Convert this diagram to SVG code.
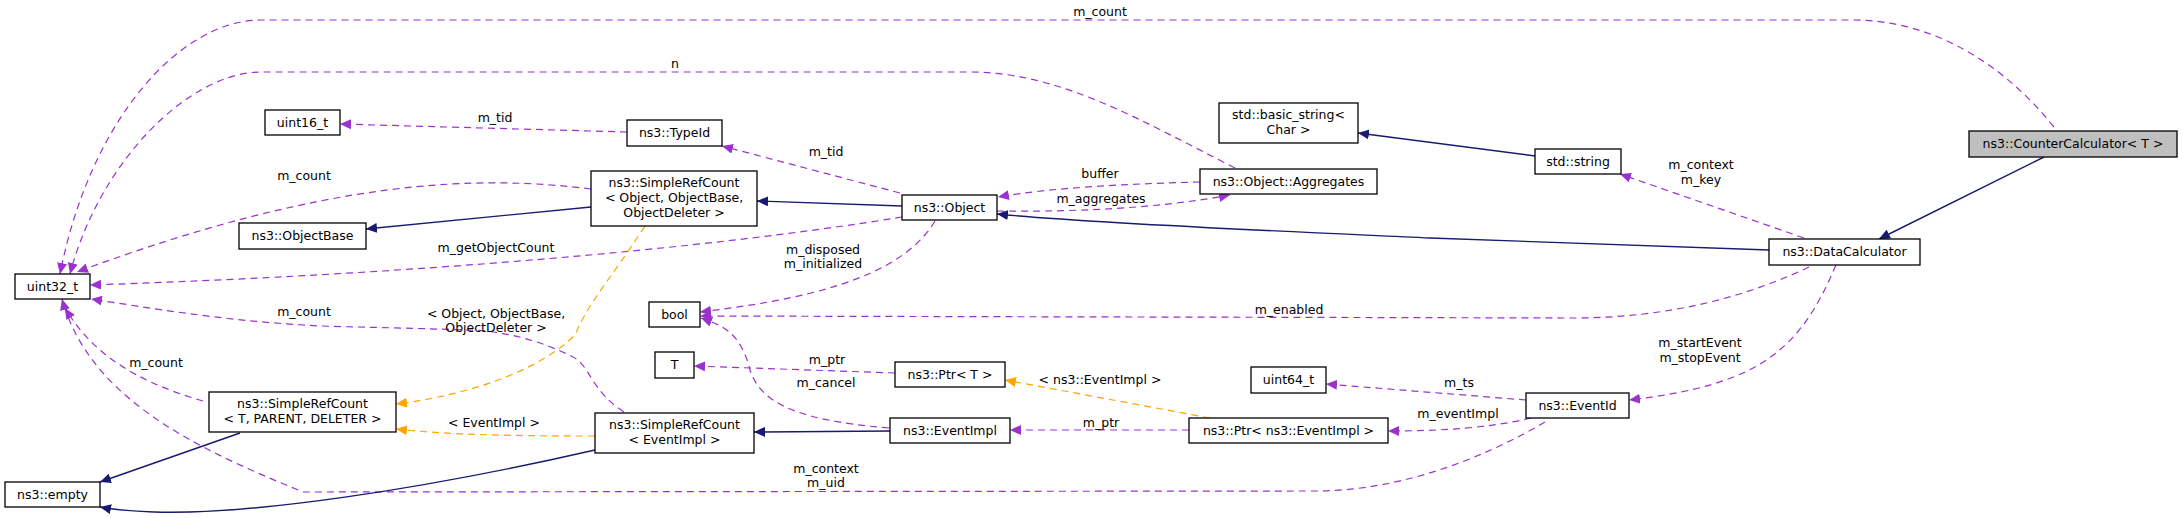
<svg xmlns="http://www.w3.org/2000/svg" width="2183" height="518" viewBox="0 0 2183 518">
<style>
.n rect{fill:#fff;stroke:#000;stroke-width:1.3}
text{font-family:"DejaVu Sans",sans-serif;font-size:12.5px;fill:#000;text-anchor:middle}
.d{fill:none;stroke:#9a32cd;stroke-width:1.2;stroke-dasharray:7,5}
.s{fill:none;stroke:#191970;stroke-width:1.4}
.o{fill:none;stroke:#ffa500;stroke-width:1.2;stroke-dasharray:7,5}
</style>
<defs>
<marker id="ap" markerWidth="12" markerHeight="10" refX="11" refY="5" orient="auto" markerUnits="userSpaceOnUse"><path d="M0,0L11,5L0,10z" fill="#9a32cd"/></marker>
<marker id="an" markerWidth="12" markerHeight="10" refX="11" refY="5" orient="auto" markerUnits="userSpaceOnUse"><path d="M0,0L11,5L0,10z" fill="#191970"/></marker>
<marker id="ao" markerWidth="12" markerHeight="10" refX="11" refY="5" orient="auto" markerUnits="userSpaceOnUse"><path d="M0,0L11,5L0,10z" fill="#ffa500"/></marker>
</defs>
<rect width="2183" height="518" fill="#fff"/>
<g id="edges">
<path class="d" marker-end="url(#ap)" d="M2054,127 C2000,60 1930,20 1852,20 L261,20 C180,20 90,120 60,274"/>
<text x="1100" y="16">m_count</text>
<path class="d" marker-end="url(#ap)" d="M1235,168 C1140,120 1060,72 970,72 L261,72 C190,72 100,160 70,274"/>
<text x="675" y="68">n</text>
<path class="d" marker-end="url(#ap)" d="M627,132 L340,124"/>
<text x="495" y="122">m_tid</text>
<path class="d" marker-end="url(#ap)" d="M900,193 L722,146"/>
<text x="826" y="156">m_tid</text>
<path class="d" marker-end="url(#ap)" d="M591,189 C480,175 330,178 77,272"/>
<text x="304" y="180">m_count</text>
<path class="s" marker-end="url(#an)" d="M591,207 L366,229"/>
<path class="s" marker-end="url(#an)" d="M902,206 L757,201"/>
<path class="d" marker-end="url(#ap)" d="M902,217 C700,250 400,275 90,285"/>
<text x="496" y="252">m_getObjectCount</text>
<path class="d" marker-end="url(#ap)" d="M1200,182 C1120,184 1050,188 998,197"/>
<text x="1100" y="178">buffer</text>
<path class="d" marker-end="url(#ap)" d="M997,211 C1080,212 1160,208 1230,195"/>
<text x="1101" y="203">m_aggregates</text>
<path class="s" marker-end="url(#an)" d="M1769,250 L1430,238 C1300,232 1100,224 997,214"/>
<path class="s" marker-end="url(#an)" d="M1535,156 L1358,133"/>
<path class="s" marker-end="url(#an)" d="M2044,157 L1879,239"/>
<path class="d" marker-end="url(#ap)" d="M1804,238 L1620,174"/>
<text x="1701" y="169">m_context</text>
<text x="1701" y="184">m_key</text>
<path class="d" marker-end="url(#ap)" d="M935,221 C900,280 800,300 700,312"/>
<text x="823" y="254">m_disposed</text>
<text x="823" y="268">m_initialized</text>
<path class="d" marker-end="url(#ap)" d="M1809,267 C1740,300 1660,318 1574,318 L700,316"/>
<text x="1289" y="314">m_enabled</text>
<path class="d" marker-end="url(#ap)" d="M1836,265 C1800,350 1760,385 1629,400"/>
<text x="1700" y="347">m_startEvent</text>
<text x="1700" y="362">m_stopEvent</text>
<path class="d" marker-end="url(#ap)" d="M1526,400 L1326,384"/>
<text x="1459" y="387">m_ts</text>
<path class="d" marker-end="url(#ap)" d="M1531,418 C1490,428 1440,431 1388,431"/>
<text x="1458" y="418">m_eventImpl</text>
<path class="d" marker-end="url(#ap)" d="M1545,422 C1480,460 1400,490 1319,491 L303,492 C200,450 90,400 62,299"/>
<text x="826" y="473">m_context</text>
<text x="826" y="487">m_uid</text>
<path class="d" marker-end="url(#ap)" d="M1189,430 L1010,430"/>
<text x="1101" y="427">m_ptr</text>
<path class="o" marker-end="url(#ao)" d="M1210,418 L1005,380"/>
<text x="1100" y="384">&lt; ns3::EventImpl &gt;</text>
<path class="d" marker-end="url(#ap)" d="M895,373 L694,366"/>
<text x="827" y="364">m_ptr</text>
<path class="d" marker-end="url(#ap)" d="M889,428 C790,420 760,400 750,370 C740,330 720,325 701,318"/>
<text x="826" y="387">m_cancel</text>
<path class="s" marker-end="url(#an)" d="M890,431 L754,432"/>
<path class="d" marker-end="url(#ap)" d="M624,412 C590,390 590,365 573,357 C540,340 500,330 466,330 C380,327 330,327 303,325 C220,320 150,308 91,299"/>
<text x="304" y="316">m_count</text>
<path class="o" marker-end="url(#ao)" d="M595,436 C520,436 450,435 396,429"/>
<text x="494" y="427">&lt; EventImpl &gt;</text>
<path class="o" marker-end="url(#ao)" d="M645,226 C610,280 590,300 575,335 C540,370 470,395 396,404"/>
<text x="496" y="318">&lt; Object, ObjectBase,</text>
<text x="496" y="332">ObjectDeleter &gt;</text>
<path class="d" marker-end="url(#ap)" d="M203,401 C130,380 90,350 65,308"/>
<text x="156" y="367">m_count</text>
<path class="s" marker-end="url(#an)" d="M240,433 L100,482"/>
<path class="s" marker-end="url(#an)" d="M595,450 C420,490 250,515 154,512 C130,511 115,510 100,507"/>
</g>
<g id="uint32" class="n"><rect x="15" y="274" width="75" height="25"/><text x="52.5" y="291">uint32_t</text></g>
<g id="uint16" class="n"><rect x="265" y="110" width="75" height="25"/><text x="302.5" y="127">uint16_t</text></g>
<g id="typeid" class="n"><rect x="627" y="120" width="95" height="26"/><text x="674.5" y="137">ns3::TypeId</text></g>
<g id="srcobj" class="n"><rect x="591" y="171" width="166" height="55"/><text x="674" y="187">ns3::SimpleRefCount</text><text x="674" y="202">&lt; Object, ObjectBase,</text><text x="674" y="217">ObjectDeleter &gt;</text></g>
<g id="objectbase" class="n"><rect x="239" y="223" width="127" height="26"/><text x="302.5" y="240">ns3::ObjectBase</text></g>
<g id="bool" class="n"><rect x="649" y="302" width="51" height="25"/><text x="674.5" y="319">bool</text></g>
<g id="T" class="n"><rect x="655" y="352" width="39" height="26"/><text x="674.5" y="369">T</text></g>
<g id="srct" class="n"><rect x="209" y="392" width="187" height="40"/><text x="302.5" y="408">ns3::SimpleRefCount</text><text x="302.5" y="423">&lt; T, PARENT, DELETER &gt;</text></g>
<g id="srcev" class="n"><rect x="595" y="413" width="159" height="40"/><text x="674.5" y="429">ns3::SimpleRefCount</text><text x="674.5" y="444">&lt; EventImpl &gt;</text></g>
<g id="empty" class="n"><rect x="5" y="482" width="95" height="25"/><text x="52.5" y="499">ns3::empty</text></g>
<g id="object" class="n"><rect x="902" y="195" width="95" height="25"/><text x="949.5" y="212">ns3::Object</text></g>
<g id="aggregates" class="n"><rect x="1200" y="169" width="177" height="25"/><text x="1288.5" y="186">ns3::Object::Aggregates</text></g>
<g id="basicstring" class="n"><rect x="1219" y="103" width="139" height="40"/><text x="1288.5" y="119">std::basic_string&lt;</text><text x="1288.5" y="134">Char &gt;</text></g>
<g id="ptrt" class="n"><rect x="895" y="362" width="110" height="25"/><text x="950" y="379">ns3::Ptr&lt; T &gt;</text></g>
<g id="eventimpl" class="n"><rect x="890" y="418" width="120" height="25"/><text x="950" y="435">ns3::EventImpl</text></g>
<g id="ptrev" class="n"><rect x="1189" y="418" width="199" height="25"/><text x="1288.5" y="435">ns3::Ptr&lt; ns3::EventImpl &gt;</text></g>
<g id="uint64" class="n"><rect x="1251" y="367" width="75" height="26"/><text x="1288.5" y="384">uint64_t</text></g>
<g id="stdstring" class="n"><rect x="1535" y="149" width="86" height="25"/><text x="1578" y="166">std::string</text></g>
<g id="counter" class="n"><rect x="1969" y="131" width="208" height="26" style="fill:#bfbfbf"/><text x="2073" y="148">ns3::CounterCalculator&lt; T &gt;</text></g>
<g id="datacalc" class="n"><rect x="1769" y="239" width="151" height="26"/><text x="1844.5" y="256">ns3::DataCalculator</text></g>
<g id="eventid" class="n"><rect x="1526" y="393" width="103" height="25"/><text x="1577.5" y="410">ns3::EventId</text></g>
</svg>
